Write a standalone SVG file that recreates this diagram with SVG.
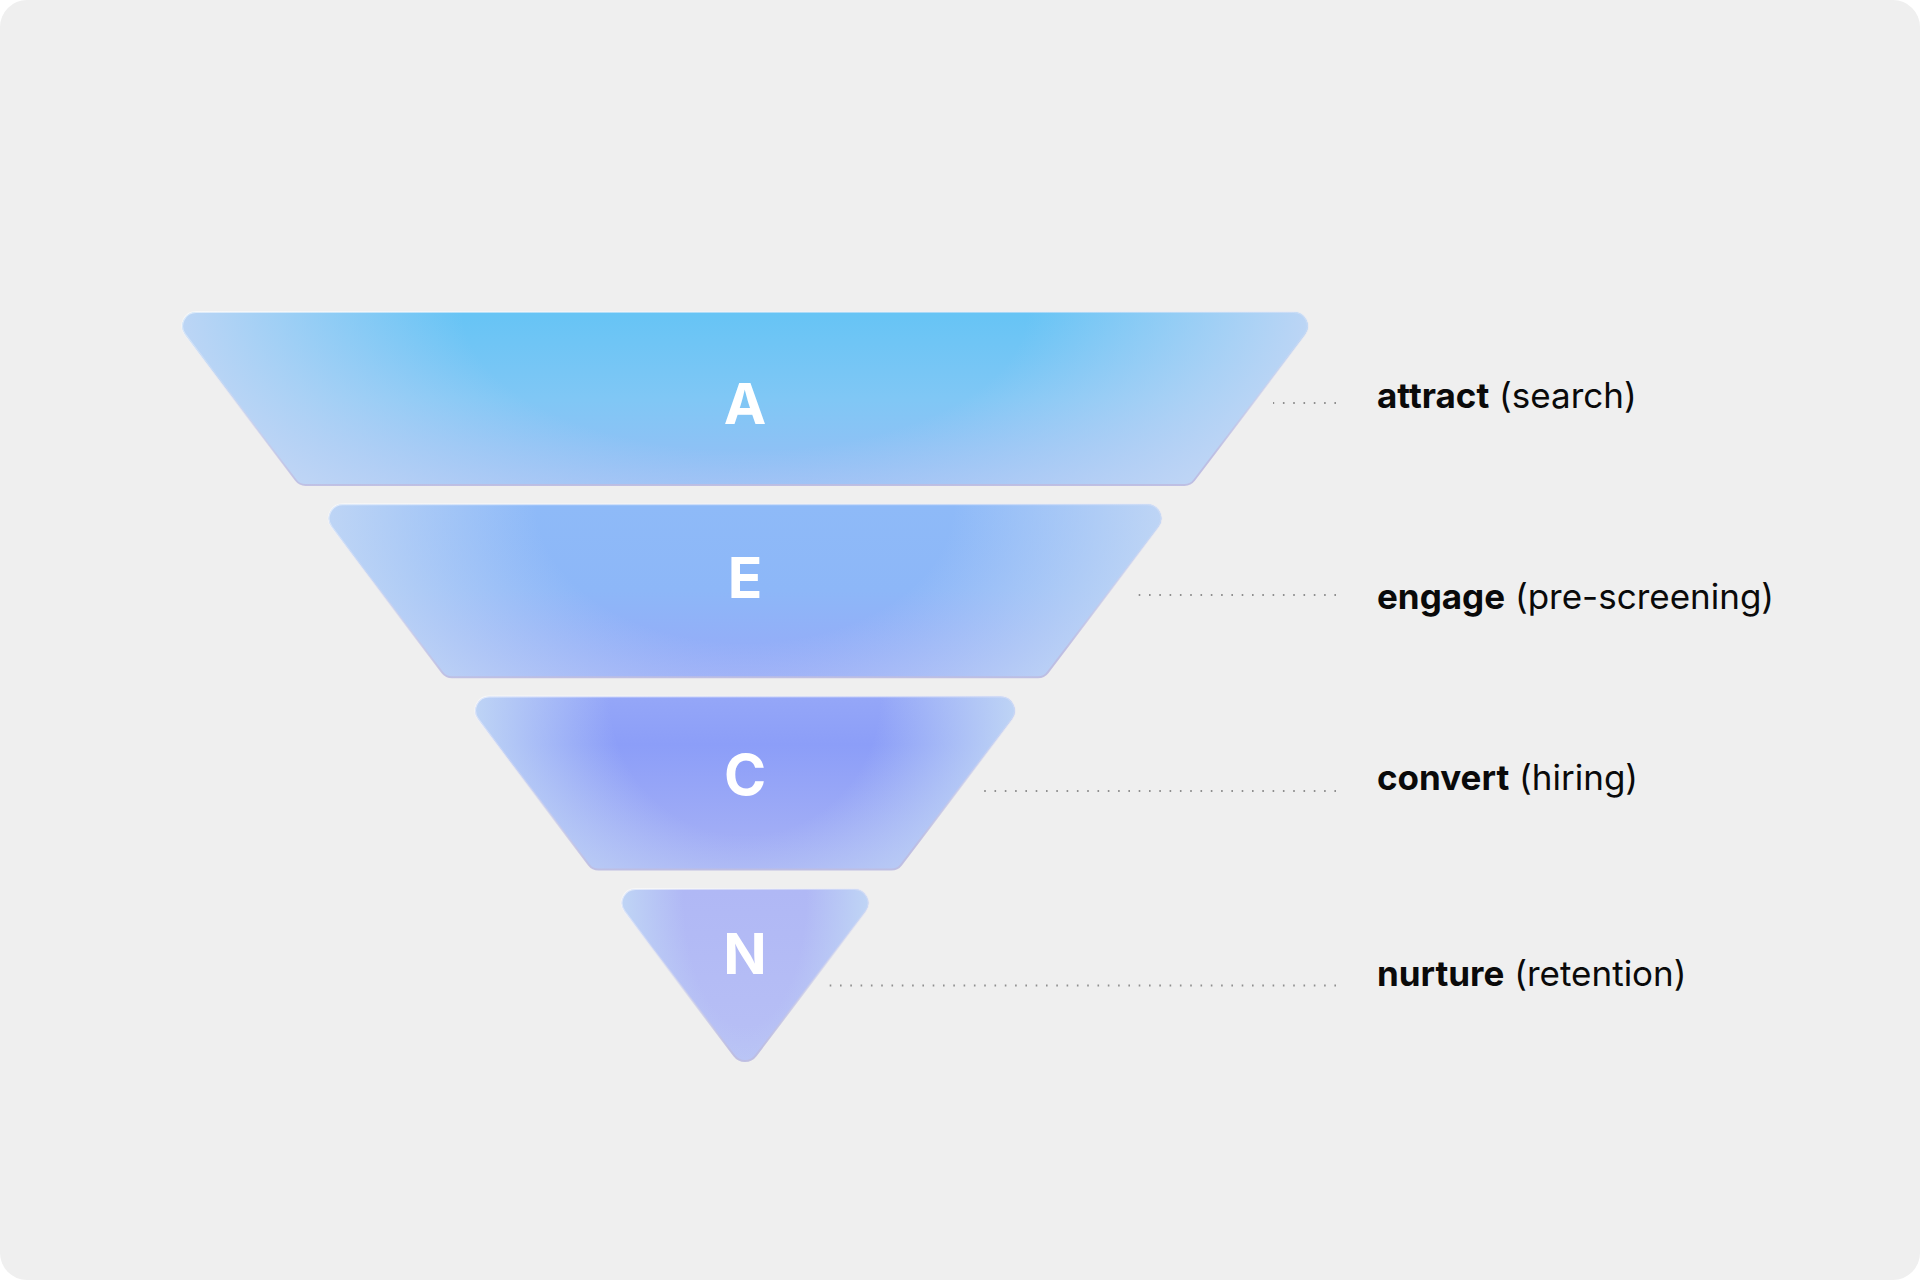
<svg xmlns="http://www.w3.org/2000/svg" width="1920" height="1280" viewBox="0 0 1920 1280">
  <defs>
    <linearGradient id="base" gradientUnits="userSpaceOnUse" x1="0" y1="312" x2="0" y2="1065">
      <stop offset="0" stop-color="#66c4f5"/>
      <stop offset="0.117" stop-color="#80c7f5"/>
      <stop offset="0.230" stop-color="#97bdf5"/>
      <stop offset="0.256" stop-color="#8ebaf8"/>
      <stop offset="0.369" stop-color="#8db7f8"/>
      <stop offset="0.485" stop-color="#97a9f8"/>
      <stop offset="0.515" stop-color="#94a6f8"/>
      <stop offset="0.575" stop-color="#8c9ef8"/>
      <stop offset="0.734" stop-color="#a8b2f5"/>
      <stop offset="0.768" stop-color="#b0b8f5"/>
      <stop offset="1" stop-color="#b8c0f5"/>
    </linearGradient>
    <radialGradient id="edge" cx="0.5" cy="0" r="0.5" gradientTransform="translate(0.5 0) scale(1 3.2) translate(-0.5 0)">
      <stop offset="0" stop-color="#c0d6f5" stop-opacity="0"/>
      <stop offset="0.5" stop-color="#c0d6f5" stop-opacity="0"/>
      <stop offset="1" stop-color="#c0d6f5" stop-opacity="0.95"/>
    </radialGradient>
    <linearGradient id="rim" x1="0" y1="0" x2="0.25" y2="1">
      <stop offset="0" stop-color="#ffffff" stop-opacity="0.55"/>
      <stop offset="0.35" stop-color="#d8dcf2" stop-opacity="0.4"/>
      <stop offset="1" stop-color="#bdbde2" stop-opacity="0.95"/>
    </linearGradient>
  </defs>
  <style>
    .base { fill: url(#base); }
    .edge { fill: url(#edge); stroke: url(#rim); stroke-width: 2; }
    .letter { font-family: Inter, "Liberation Sans", sans-serif; font-weight: 700; font-size: 57px; fill: #ffffff; text-anchor: middle; }
    .label { font-family: Inter, "Liberation Sans", sans-serif; font-size: 35px; fill: #0a0a0a; }
    .label .b { font-weight: 700; }
    .dots { stroke: #8f8f8f; stroke-width: 2; stroke-dasharray: 1.6 8.7; fill: none; }
  </style>

  <rect x="0" y="0" width="1920" height="1280" fill="#ffffff"/>
  <rect x="0" y="0" width="1920" height="1280" rx="27" ry="27" fill="#efefef"/>

  <g id="connectors">
    <line class="dots" x1="1336" y1="403" x2="1273" y2="403"/>
    <line class="dots" x1="1336" y1="595" x2="1136" y2="595"/>
    <line class="dots" x1="1336" y1="791" x2="983" y2="791"/>
    <line class="dots" x1="1336" y1="985.5" x2="827" y2="985.5"/>
  </g>

  <g id="node-A">
    <path class="base" d="M196.2,312 L1293.8,312 A14,14 0 0 1 1304.94,334.45 L1194.1,480.26 A12,12 0 0 1 1184.54,485 L305.46,485 A12,12 0 0 1 295.9,480.26 L185.06,334.45 A14,14 0 0 1 196.2,312Z"/>
    <path class="edge" d="M196.2,312 L1293.8,312 A14,14 0 0 1 1304.94,334.45 L1194.1,480.26 A12,12 0 0 1 1184.54,485 L305.46,485 A12,12 0 0 1 295.9,480.26 L185.06,334.45 A14,14 0 0 1 196.2,312Z"/>
    <text class="letter" x="745" y="424">A</text>
  </g>

  <g id="node-E">
    <path class="base" d="M342.7,504.3 L1147.3,504.3 A14,14 0 0 1 1158.44,526.75 L1047.6,672.56 A12,12 0 0 1 1038.04,677.3 L451.96,677.3 A12,12 0 0 1 442.4,672.56 L331.56,526.75 A14,14 0 0 1 342.7,504.3Z"/>
    <path class="edge" d="M342.7,504.3 L1147.3,504.3 A14,14 0 0 1 1158.44,526.75 L1047.6,672.56 A12,12 0 0 1 1038.04,677.3 L451.96,677.3 A12,12 0 0 1 442.4,672.56 L331.56,526.75 A14,14 0 0 1 342.7,504.3Z"/>
    <text class="letter" x="745" y="598">E</text>
  </g>

  <g id="node-C">
    <path class="base" d="M489.2,696.6 L1000.8,696.6 A14,14 0 0 1 1011.94,719.05 L901.1,864.86 A12,12 0 0 1 891.54,869.6 L598.46,869.6 A12,12 0 0 1 588.9,864.86 L478.06,719.05 A14,14 0 0 1 489.2,696.6Z"/>
    <path class="edge" d="M489.2,696.6 L1000.8,696.6 A14,14 0 0 1 1011.94,719.05 L901.1,864.86 A12,12 0 0 1 891.54,869.6 L598.46,869.6 A12,12 0 0 1 588.9,864.86 L478.06,719.05 A14,14 0 0 1 489.2,696.6Z"/>
    <text class="letter" x="745" y="795">C</text>
  </g>

  <g id="node-N">
    <path class="base" d="M635.7,888.9 L854.3,888.9 A14,14 0 0 1 865.44,911.35 L755.77,1055.63 A13.5,13.5 0 0 1 734.23,1055.63 L624.56,911.35 A14,14 0 0 1 635.7,888.9Z"/>
    <path class="edge" d="M635.7,888.9 L854.3,888.9 A14,14 0 0 1 865.44,911.35 L755.77,1055.63 A13.5,13.5 0 0 1 734.23,1055.63 L624.56,911.35 A14,14 0 0 1 635.7,888.9Z"/>
    <text class="letter" x="745" y="974">N</text>
  </g>

  <g id="label-attract">
    <text class="label" x="1377" y="408"><tspan class="b">attract</tspan> (search)</text>
  </g>
  <g id="label-engage">
    <text class="label" x="1377" y="609"><tspan class="b">engage</tspan> (pre-screening)</text>
  </g>
  <g id="label-convert">
    <text class="label" x="1377" y="790"><tspan class="b">convert</tspan> (hiring)</text>
  </g>
  <g id="label-nurture">
    <text class="label" x="1377" y="986"><tspan class="b">nurture</tspan> (retention)</text>
  </g>
</svg>
